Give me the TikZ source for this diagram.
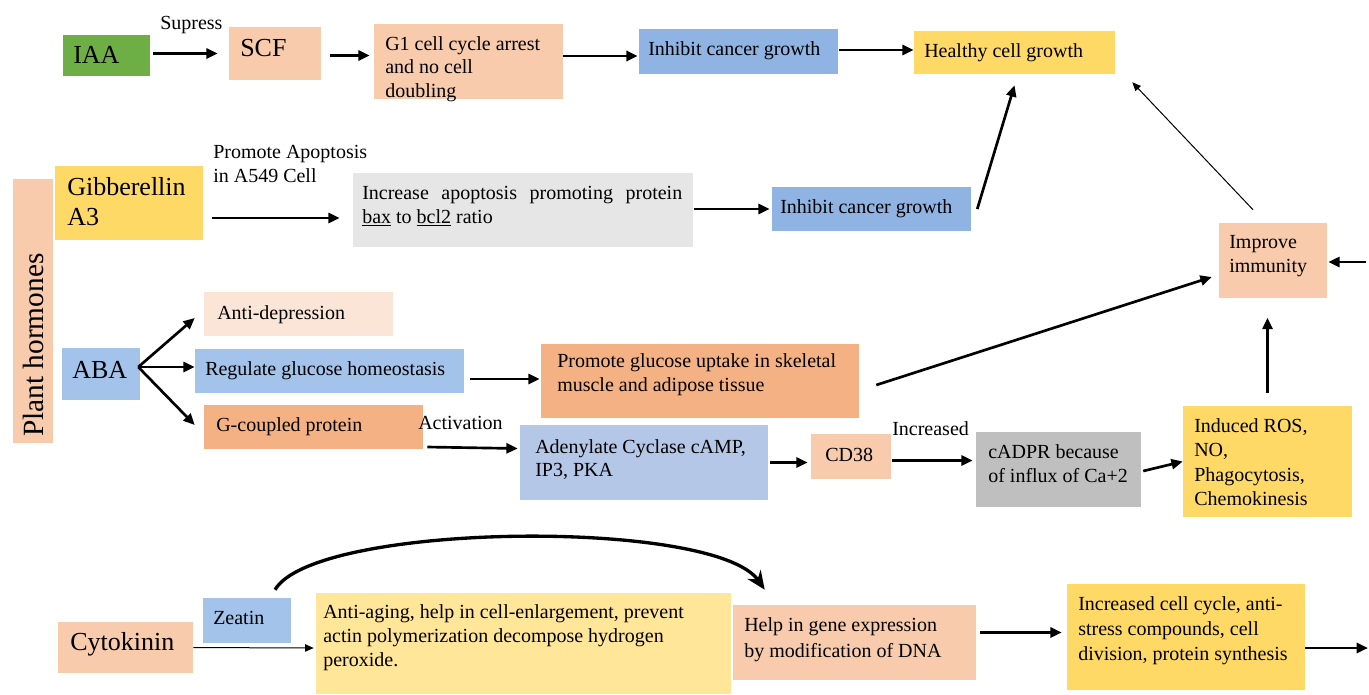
\documentclass[tikz,border=0pt]{standalone}
\usepackage{fontspec}
\setmainfont{Liberation Serif}
\usetikzlibrary{arrows.meta,calc,fit}
\definecolor{cgreen}{HTML}{6DAF45}
\definecolor{cpeach}{HTML}{F8CBAD}
\definecolor{clpeach}{HTML}{FBE5D6}
\definecolor{corange}{HTML}{F4B183}
\definecolor{cblueA}{HTML}{8FB4E3}
\definecolor{cblueB}{HTML}{A4C3EA}
\definecolor{cblueC}{HTML}{B4C7E7}
\definecolor{cyellow}{HTML}{FFD966}
\definecolor{clyellow}{HTML}{FFE699}
\definecolor{cgrayA}{HTML}{E7E6E6}
\definecolor{cgrayB}{HTML}{BFBFBF}
\newcommand{\bodyf}{\fontsize{15}{18}\selectfont}
\newcommand{\bigf}{\fontsize{19.5}{22.5}\selectfont}
\newcommand{\plantf}{\fontsize{22}{26}\selectfont}
\newcommand{\mybox}[6]{\node[fit={(#2,#3) (#4,#5)}, inner sep=0pt, fill=#6, draw=none] (#1) {};}
\begin{document}
\begin{tikzpicture}[x=0.75pt,y=-0.75pt,
  txt/.style={anchor=north west, inner sep=0pt, align=left, font=\bodyf},
  arr/.style={line width=2pt, -{Triangle[length=8.5pt,width=7.5pt]}},
  thinarr/.style={line width=0.75pt, -{Triangle[length=6.5pt,width=5.5pt]}},
  curvearr/.style={line width=2.5pt, -{Stealth[length=14pt,width=12pt]}}]
\useasboundingbox (0,0) rectangle (1369,694);
\fill[white] (0,0) rectangle (1369,694);
% boxes
\mybox{iaa}{63}{35}{150}{76}{cgreen}
\mybox{scf}{229}{27}{321}{80}{cpeach}
\mybox{gone}{374}{24}{563}{99}{cpeach}
\mybox{inhA}{639}{29}{838}{74}{cblueA}
\mybox{healthy}{914}{31}{1115}{74}{cyellow}
\mybox{plant}{13}{179}{53}{443}{cpeach}
\mybox{gib}{55}{166}{203}{240}{cyellow}
\mybox{gray}{353}{173}{693}{247}{cgrayA}
\mybox{inhB}{772}{187}{971}{231}{cblueA}
\mybox{improve}{1219}{223}{1327}{298}{cpeach}
\mybox{aba}{62}{348}{140}{400}{cblueB}
\mybox{antidep}{204}{292}{393}{336}{clpeach}
\mybox{regulate}{195}{349}{464}{393}{cblueB}
\mybox{gcoup}{204}{405}{423}{449}{corange}
\mybox{promote}{541}{344}{859}{418}{corange}
\mybox{adenyl}{520}{425}{768}{500}{cblueC}
\mybox{cd}{811}{434}{891}{479}{cpeach}
\mybox{cadpr}{976}{432}{1141}{507}{cgrayB}
\mybox{induced}{1183}{406}{1352}{517}{cyellow}
\mybox{cyto}{58}{622}{193}{673}{cpeach}
\mybox{zeatin}{203}{598}{291}{643}{cblueB}
\mybox{antiaging}{316}{593}{731}{694}{clyellow}
\mybox{help}{733}{605}{976}{680}{cpeach}
\mybox{incr}{1067}{584}{1305}{690}{cyellow}
% texts
\node[txt,font=\bigf] (t-iaa) at (73,46) {IAA};
\node[txt] (t-sup) at (160,16) {Supress};
\node[txt,font=\bigf] (t-scf) at (240,39) {SCF};
\node[txt,font=\fontsize{15}{17.6}\selectfont] (t-g1) at (385,36) {G1 cell cycle arrest\\and no cell\\doubling};
\node[txt] (t-inhA) at (648,41) {Inhibit cancer growth};
\node[txt] (t-healthy) at (924,43) {Healthy cell growth};
\node[txt] (t-prom) at (213,145) {Promote Apoptosis\\in A549 Cell};
\node[txt,font=\bigf] (t-gib) at (67,177) {Gibberellin\\A3};
\node[txt] (t-gray) at (362,186) {\makebox[240pt][s]{Increase apoptosis promoting protein}\\\underline{bax} to \underline{bcl2} ratio};
\node[txt] (t-inhB) at (780,199) {Inhibit cancer growth};
\node[txt] (t-imp) at (1229,235) {Improve\\immunity};
\node[rotate=90, anchor=west, inner sep=0pt, font=\plantf] (t-plant) at (33,437) {Plant hormones};
\node[txt] (t-antidep) at (217,305) {Anti-depression};
\node[txt,font=\bigf] (t-aba) at (72,361) {ABA};
\node[txt] (t-reg) at (205,361) {Regulate glucose homeostasis};
\node[txt] (t-gc) at (216,417) {G-coupled protein};
\node[txt] (t-act) at (418,416) {Activation};
\node[txt] (t-promote) at (557,353) {Promote glucose uptake in skeletal\\muscle and adipose tissue};
\node[txt,font=\fontsize{15}{17.3}\selectfont] (t-aden) at (535,439) {Adenylate Cyclase cAMP,\\IP3, PKA};
\node[txt] (t-cd) at (825,448) {CD38};
\node[txt] (t-incd) at (892,421) {Increased};
\node[txt] (t-cadpr) at (988,444) {cADPR because\\of influx of Ca+2};
\node[txt,font=\fontsize{15}{18.4}\selectfont] (t-ind) at (1194,418) {Induced ROS,\\NO,\\Phagocytosis,\\Chemokinesis};
\node[txt,font=\bigf] (t-cyto) at (70,632) {Cytokinin};
\node[txt] (t-zea) at (213,611) {Zeatin};
\node[txt] (t-anti) at (323,604) {Anti-aging, help in cell-enlargement, prevent\\actin polymerization decompose hydrogen\\peroxide.};
\node[txt,font=\fontsize{15}{19.5}\selectfont] (t-help) at (744,617) {Help in gene expression\\by modification of DNA};
\node[txt,font=\fontsize{15}{18.75}\selectfont] (t-incr) at (1078,596) {Increased cell cycle, anti-\\stress compounds, cell\\division, protein synthesis};
% free ends
\coordinate (rin) at (1366,262);
\coordinate (rout) at (1368,648);
% connectors
\draw[arr] ($(iaa.east)+(3,-2)$) -- ($(scf.west)+(-11,0)$);
\draw[arr] ($(scf.east)+(9,2)$) -- ($(gone.west)+(-4,-6)$);
\draw[arr] ($(gone.east)+(0,-5.5)$) -- ($(inhA.west)+(-1,4.5)$);
\draw[arr] ($(inhA.east)+(1,-1.5)$) -- ($(healthy.west)+(0,-2.5)$);
\draw[arr] ($(gib.east)+(9,15)$) -- ($(gray.west)+(-13,8)$);
\draw[arr] ($(gray.east)+(1,-1)$) -- ($(inhB.west)+(-2,0)$);
\draw[arr] ($(inhB.east)+(6,0)$) -- ($(healthy.south)+(0,11)$);
\draw[thinarr] ($(improve.north)+(-20,-13)$) -- ($(healthy.south east)+(17,8)$);
\draw[arr] (rin) -- ($(improve.east)+(1,1.5)$);
\draw[arr] ($(induced.north)+(0,-13)$) -- ($(induced.north)+(0,-88)$);
\draw[arr] ($(promote.east)+(17,4)$) -- ($(improve.west)+(-7,16.5)$);
\draw[arr] ($(aba.east)+(-2,-7)$) -- ($(antidep.west)+(-9,4)$);
\draw[arr] ($(aba.east)+(-2,-7)$) -- ($(regulate.west)+(0,-4)$);
\draw[arr] ($(aba.east)+(-2,-7)$) -- ($(gcoup.west)+(-9,-2)$);
\draw[arr] ($(regulate.east)+(6,8)$) -- ($(promote.west)+(-1,-2)$);
\draw[arr] ($(gcoup.east)+(4,20)$) -- ($(adenyl.west)+(-2,-14)$);
\draw[arr] ($(adenyl.east)+(2,0)$) -- ($(cd.west)+(-3,6)$);
\draw[arr] ($(cd.east)+(1,4)$) -- ($(cadpr.west)+(-3,-9)$);
\draw[arr] ($(cadpr.east)+(2,1.5)$) -- (induced.west);
\draw[thinarr] (cyto.east) -- ($(antiaging.west)+(-2,4.5)$);
\draw[curvearr] ($(zeatin.north)+(28,-8)$) .. controls (315,522) and (715,518) .. ($(help.north west)+(32,-15)$);
\draw[arr] ($(help.east)+(4,-10)$) -- ($(incr.west)+(-5,-4.5)$);
\draw[arr] ($(incr.east)+(0,11)$) -- (rout);
\end{tikzpicture}
\end{document}
